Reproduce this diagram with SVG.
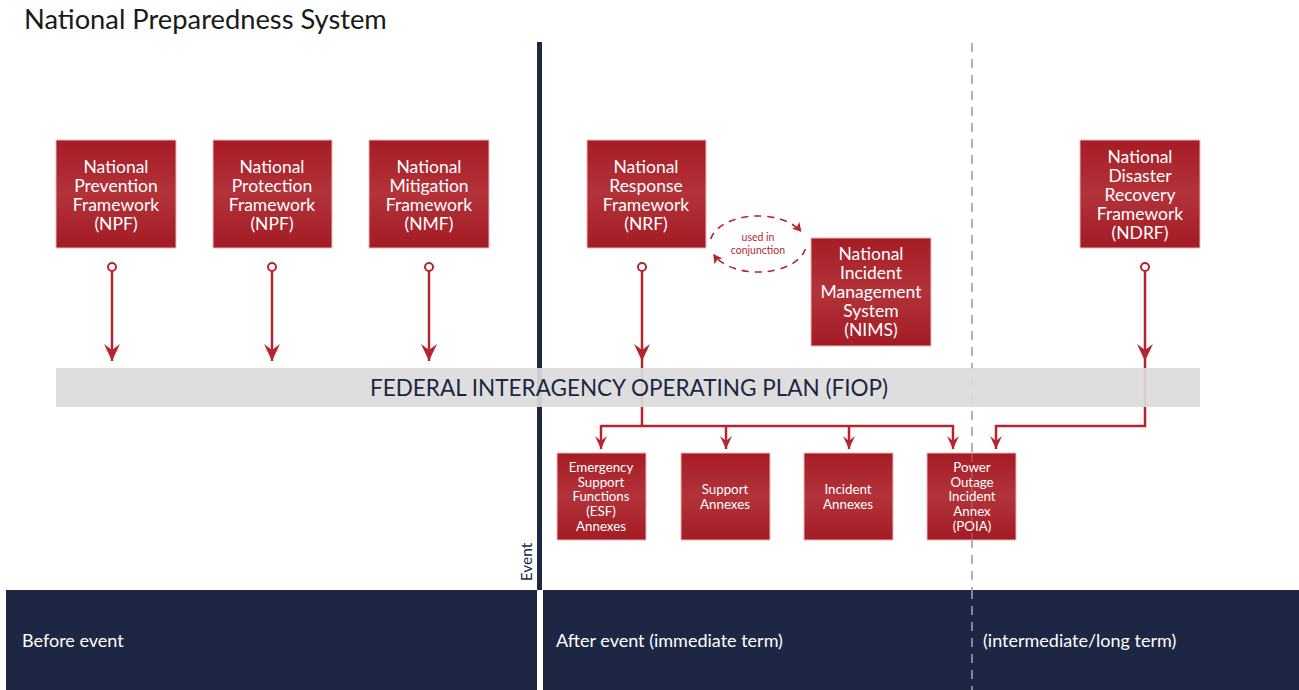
<svg xmlns="http://www.w3.org/2000/svg" width="1299" height="690" viewBox="0 0 1299 690">
<defs>
<linearGradient id="red" x1="0" y1="0" x2="0" y2="1">
<stop offset="0" stop-color="#a61c25"/>
<stop offset="0.5" stop-color="#b3333a"/>
<stop offset="1" stop-color="#a31b24"/>
</linearGradient>
<marker id="ah" markerWidth="16" markerHeight="18" refX="8" refY="17" orient="0" markerUnits="userSpaceOnUse">
<path d="M0,0 L8,6 L16,0 L8,17 Z" fill="#b5252d"/>
</marker>
<marker id="ahs" markerWidth="12" markerHeight="14" refX="6" refY="13" orient="0" markerUnits="userSpaceOnUse">
<path d="M0,0 L6,5 L12,0 L6,13 Z" fill="#b5252d"/>
</marker>
<marker id="ahd" markerWidth="10" markerHeight="10" refX="8" refY="5" orient="auto" markerUnits="userSpaceOnUse">
<path d="M0,0 L9,5 L0,10 L2,5 Z" fill="#b5252d"/>
</marker>
</defs>
<style>
.box{fill:url(#red);stroke:#e8b9bb;stroke-width:1}
.bt{font-family:Lato,"Open Sans",sans-serif;font-size:17.5px;fill:#ffffff;text-anchor:middle}
.st{font-family:Lato,"Open Sans",sans-serif;font-size:13.3px;fill:#ffffff;text-anchor:middle}
.con{stroke:#b5252d;stroke-width:2.5;fill:none}
.dot{fill:#ffffff;stroke:#b5252d;stroke-width:2}
.band{font-family:Lato,"Open Sans",sans-serif;font-size:18px;fill:#ffffff}
</style>
<rect width="1299" height="690" fill="#ffffff"/>
<text x="24" y="29" font-family="Lato,'Open Sans',sans-serif" font-size="27.3" fill="#1a1a1a">National Preparedness System</text>

<line x1="972" y1="43" x2="972" y2="690" stroke="#9aa0ab" stroke-width="1.6" stroke-dasharray="9,7"/>

<g id="timeline">
<rect x="6" y="590" width="531" height="100" fill="#1d2744"/>
<rect x="543" y="590" width="756" height="100" fill="#1d2744"/>
<text class="band" x="22" y="647">Before event</text>
<text class="band" x="556" y="647">After event (immediate term)</text>
<text class="band" x="983" y="647">(intermediate/long term)</text>
</g>
<line x1="972" y1="590" x2="972" y2="690" stroke="#9aa0ab" stroke-width="1.6" stroke-dasharray="9,7"/>

<g id="event">
<rect x="537" y="42" width="5" height="548" fill="#1d2744"/>
<text x="0" y="0" transform="translate(532,562) rotate(-90)" font-family="Lato,'Open Sans',sans-serif" font-size="15.5" fill="#1d2744" text-anchor="middle">Event</text>
</g>

<g id="connectors">
<line class="con" x1="112" y1="271" x2="112" y2="361" marker-end="url(#ah)"/>
<line class="con" x1="272" y1="271" x2="272" y2="361" marker-end="url(#ah)"/>
<line class="con" x1="429" y1="271" x2="429" y2="361" marker-end="url(#ah)"/>
<line class="con" x1="642" y1="271" x2="642" y2="361" marker-end="url(#ah)"/>
<line class="con" x1="1145" y1="271" x2="1145" y2="361" marker-end="url(#ah)"/>
<path class="con" d="M642,361 L642,426 M601,426 L953,426"/>
<line class="con" x1="601" y1="425" x2="601" y2="449" marker-end="url(#ahs)"/>
<line class="con" x1="726" y1="426" x2="726" y2="449" marker-end="url(#ahs)"/>
<line class="con" x1="849" y1="426" x2="849" y2="449" marker-end="url(#ahs)"/>
<line class="con" x1="953" y1="425" x2="953" y2="449" marker-end="url(#ahs)"/>
<path class="con" d="M1145,361 L1145,426 L996,426 L996,449" marker-end="url(#ahs)"/>
<circle class="dot" cx="112" cy="267" r="4"/>
<circle class="dot" cx="272" cy="267" r="4"/>
<circle class="dot" cx="429" cy="267" r="4"/>
<circle class="dot" cx="642" cy="267" r="4"/>
<circle class="dot" cx="1145" cy="267" r="4"/>
<path d="M710.7,239.1 A48 28 0 0 1 800.8,231.3" fill="none" stroke="#b5252d" stroke-width="1.6" stroke-dasharray="7,6" marker-end="url(#ahd)"/>
<path d="M805.3,248.9 A48 28 0 0 1 713.8,254.9" fill="none" stroke="#b5252d" stroke-width="1.6" stroke-dasharray="7,6" marker-end="url(#ahd)"/>
<text x="758" y="241" font-family="Lato,'Open Sans',sans-serif" font-size="10.5" fill="#b12a30" text-anchor="middle">used in</text>
<text x="758" y="254" font-family="Lato,'Open Sans',sans-serif" font-size="10.5" fill="#b12a30" text-anchor="middle">conjunction</text>
</g>

<g id="fiop">
<rect x="56" y="368" width="1144" height="39" fill="#dcdcdc" fill-opacity="0.93"/>
<text x="629" y="396" font-family="Lato,'Open Sans',sans-serif" font-size="22.5" fill="#1d2744" text-anchor="middle">FEDERAL INTERAGENCY OPERATING PLAN (FIOP)</text>
</g>

<g id="npf">
<rect class="box" x="56" y="140" width="120" height="108"/>
<text class="bt" x="116" y="173">National</text>
<text class="bt" x="116" y="192">Prevention</text>
<text class="bt" x="116" y="211">Framework</text>
<text class="bt" x="116" y="230">(NPF)</text>
</g>
<g id="npf2">
<rect class="box" x="213" y="140" width="119" height="108"/>
<text class="bt" x="272" y="173">National</text>
<text class="bt" x="272" y="192">Protection</text>
<text class="bt" x="272" y="211">Framework</text>
<text class="bt" x="272" y="230">(NPF)</text>
</g>
<g id="nmf">
<rect class="box" x="369" y="140" width="120" height="108"/>
<text class="bt" x="429" y="173">National</text>
<text class="bt" x="429" y="192">Mitigation</text>
<text class="bt" x="429" y="211">Framework</text>
<text class="bt" x="429" y="230">(NMF)</text>
</g>
<g id="nrf">
<rect class="box" x="587" y="140" width="119" height="108"/>
<text class="bt" x="646" y="173">National</text>
<text class="bt" x="646" y="192">Response</text>
<text class="bt" x="646" y="211">Framework</text>
<text class="bt" x="646" y="230">(NRF)</text>
</g>
<g id="nims">
<rect class="box" x="811" y="238" width="120" height="108"/>
<text class="bt" x="871" y="260">National</text>
<text class="bt" x="871" y="279">Incident</text>
<text class="bt" x="871" y="298">Management</text>
<text class="bt" x="871" y="317">System</text>
<text class="bt" x="871" y="336">(NIMS)</text>
</g>
<g id="ndrf">
<rect class="box" x="1080" y="140" width="120" height="108"/>
<text class="bt" x="1140" y="163">National</text>
<text class="bt" x="1140" y="182">Disaster</text>
<text class="bt" x="1140" y="201">Recovery</text>
<text class="bt" x="1140" y="220">Framework</text>
<text class="bt" x="1140" y="239">(NDRF)</text>
</g>

<g id="esf">
<rect class="box" x="557" y="453" width="89" height="87"/>
<text class="st" x="601" y="472">Emergency</text>
<text class="st" x="601" y="487">Support</text>
<text class="st" x="601" y="501">Functions</text>
<text class="st" x="601" y="516">(ESF)</text>
<text class="st" x="601" y="531">Annexes</text>
</g>
<g id="support">
<rect class="box" x="681" y="453" width="89" height="87"/>
<text class="st" x="725" y="494">Support</text>
<text class="st" x="725" y="509">Annexes</text>
</g>
<g id="incident">
<rect class="box" x="804" y="453" width="89" height="87"/>
<text class="st" x="848" y="494">Incident</text>
<text class="st" x="848" y="509">Annexes</text>
</g>
<g id="poia">
<rect class="box" x="927" y="453" width="89" height="87"/>
<text class="st" x="972" y="472">Power</text>
<text class="st" x="972" y="487">Outage</text>
<text class="st" x="972" y="501">Incident</text>
<text class="st" x="972" y="516">Annex</text>
<text class="st" x="972" y="531">(POIA)</text>
</g>
<line x1="972" y1="453" x2="972" y2="540" stroke="#9aa0ab" stroke-width="1.2" stroke-dasharray="9,7" stroke-opacity="0.5"/>
</svg>
